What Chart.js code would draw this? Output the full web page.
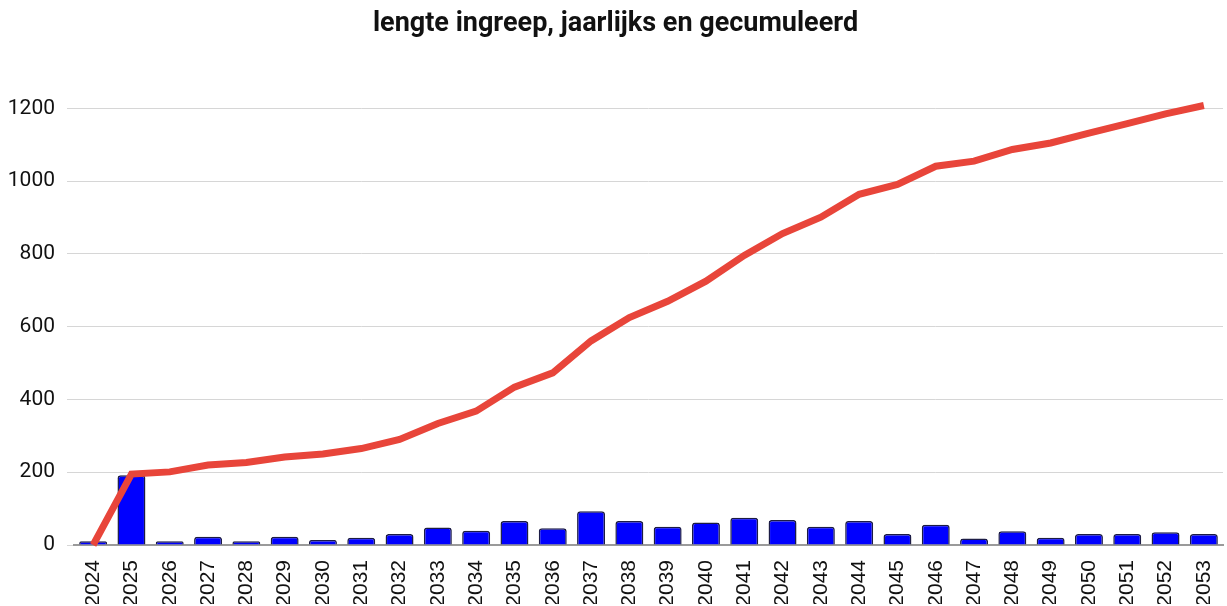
<!DOCTYPE html>
<html>
<head>
<meta charset="utf-8">
<script src="https://cdn.jsdelivr.net/npm/chart.js@4"></script>
<style>
  html, body { margin: 0; padding: 0; background: #fff; }
  #wrap { width: 1227px; height: 606px; }
</style>
</head>
<body>
<div id="wrap"><canvas id="lengteChart" width="1227" height="606"></canvas></div>
<script>
// jaren
var jaren = ["2024", "2025", "2026", "2027", "2028", "2029", "2030", "2031", "2032", "2033",
             "2034", "2035", "2036", "2037", "2038", "2039", "2040", "2041", "2042", "2043",
             "2044", "2045", "2046", "2047", "2048", "2049", "2050", "2051", "2052", "2053"];

// lengte per jaar (staven)
var jaarlijks = [10, 192, 10, 23, 10, 23, 14, 20, 30, 48,
                 39, 66, 46, 93, 66, 50, 62, 75, 69, 50,
                 66, 30, 56, 18, 38, 20, 30, 30, 35, 30];

// gecumuleerd (lijn)
var gecumuleerd = [0, 195, 201, 220, 227, 242, 250, 265, 290, 334,
                   368, 434, 473, 561, 625, 670, 725, 796, 856, 901,
                   964, 991, 1041, 1055, 1087, 1105, 1132, 1158, 1185, 1208];

var yTicks = [0, 200, 400, 600, 800, 1000, 1200];

var ctx = document.getElementById("lengteChart");
var myChart = new Chart(ctx, {
    type: "bar",
    data: {
        labels: jaren,
        datasets: [
            {
                type: "line",
                label: "gecumuleerd",
                data: gecumuleerd,
                borderColor: "#e8453a",
                borderWidth: 7,
                pointRadius: 0,
                tension: 0,
                fill: false,
                clip: false,
                order: 0
            },
            {
                label: "jaarlijks",
                data: jaarlijks,
                backgroundColor: "#0000ff",
                borderColor: "#1c1c45",
                borderWidth: 1.5,
                borderRadius: 3,
                borderSkipped: "bottom",
                barPercentage: 0.73,
                categoryPercentage: 1,
                order: 1
            }
        ]
    },
    options: {
        responsive: false,
        animation: false,
        layout: {
            padding: { left: 8, right: 4, top: 0, bottom: 2 }
        },
        plugins: {
            legend: { display: false },
            tooltip: { enabled: false },
            title: {
                display: true,
                text: "lengte ingreep, jaarlijks en gecumuleerd",
                color: "#111",
                font: { family: "Roboto", size: 27, weight: "bold" },
                padding: { top: 8, bottom: 68 }
            }
        },
        scales: {
            x: {
                grid: { display: false },
                border: { color: "#9a9a9a", width: 2 },
                afterFit: function (axis) {
                    axis.height = 59;
                    axis.paddingLeft = 0;
                    axis.paddingRight = 0;
                },
                ticks: {
                    color: "#111",
                    font: { family: "Liberation Sans", size: 21 },
                    minRotation: 90,
                    maxRotation: 90,
                    padding: 7,
                    autoSkip: false
                }
            },
            y: {
                min: yTicks[0],
                max: yTicks[yTicks.length - 1],
                border: { display: false },
                grid: { color: "#d6d6d6", lineWidth: 1, tickLength: 7 },
                afterFit: function (axis) {
                    axis.width = 66;
                },
                afterBuildTicks: function (axis) {
                    axis.ticks = yTicks.map(function (v) { return { value: v }; });
                },
                ticks: {
                    color: "#111",
                    font: { family: "Roboto", size: 21 },
                    padding: 12,
                    callback: function (value) { return String(value); }
                }
            }
        }
    }
});
</script>
</body>
</html>
